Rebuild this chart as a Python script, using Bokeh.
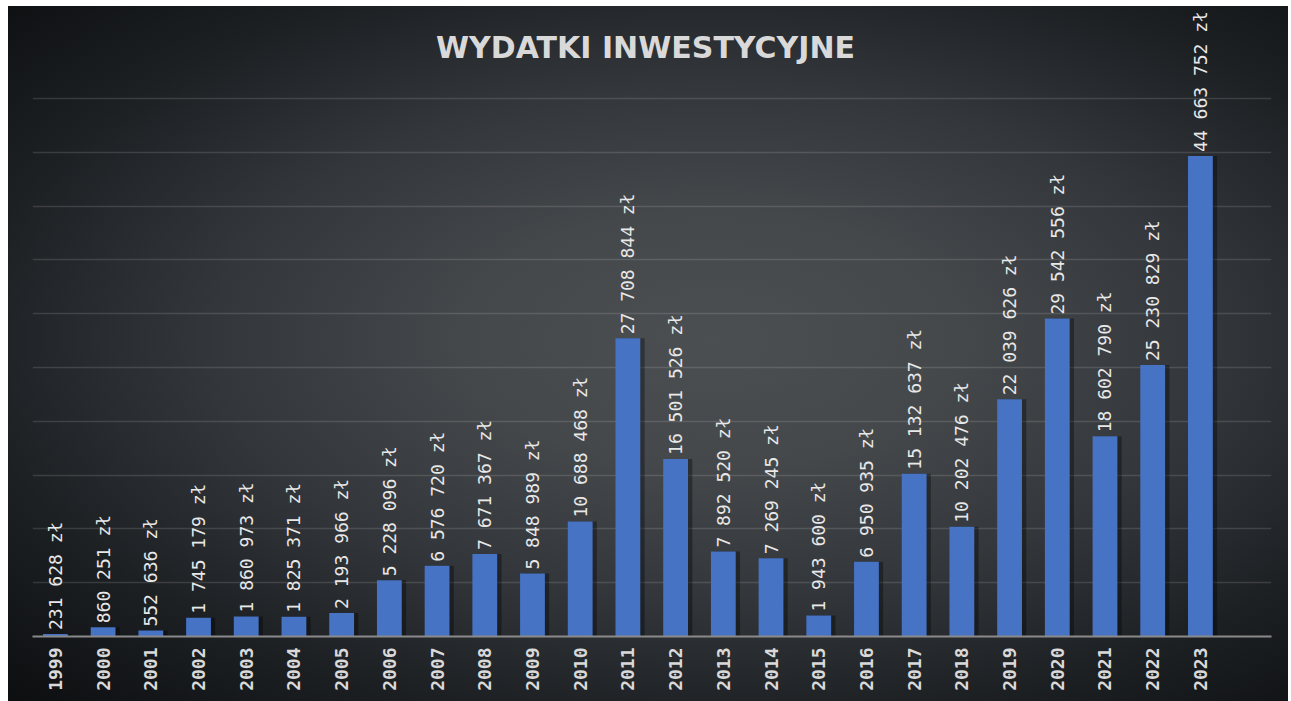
import math
from bokeh.plotting import figure
from bokeh.models import Range1d, FixedTicker, ColumnDataSource, Label
from bokeh.core.properties import value
from bokeh.embed import file_html
from bokeh.resources import INLINE

years = ["1999", "2000", "2001", "2002", "2003", "2004", "2005", "2006", "2007",
         "2008", "2009", "2010", "2011", "2012", "2013", "2014", "2015", "2016",
         "2017", "2018", "2019", "2020", "2021", "2022", "2023"]
amounts = [231628, 860251, 552636, 1745179, 1860973, 1825371, 2193966, 5228096,
           6576720, 7671367, 5848989, 10688468, 27708844, 16501526, 7892520,
           7269245, 1943600, 6950935, 15132637, 10202476, 22039626, 29542556,
           18602790, 25230829, 44663752]
title_text = "WYDATKI INWESTYCYJNE"
grid_ticks = [0, 5e6, 10e6, 15e6, 20e6, 25e6, 30e6, 35e6, 40e6, 45e6, 50e6]


def fmt(v):
    return "{:,}".format(v).replace(",", " ") + " zł"


idx = list(range(len(years)))
src = ColumnDataSource(dict(x=idx, y=amounts, lab=[fmt(v) for v in amounts],
                            xs=[i + 0.07 for i in idx]))

W, H = 1280, 695
bottom = 65
frame_h = H - bottom
ymax = frame_h / 10.76 * 1e6

p = figure(width=W, height=H, output_backend="svg", toolbar_location=None,
           x_range=Range1d(-0.48, len(years) - 1 + 1.49), y_range=Range1d(0, ymax),
           min_border_left=24, min_border_right=17, min_border_top=0,
           min_border_bottom=bottom)
p.styles = {"background": "radial-gradient(ellipse farthest-corner at 55% 48%, "
                          "#4c4f52 0%, #45484b 25%, #33363a 50%, #1d2023 75%, #0c0e10 100%)",
            "margin": "6px 0 0 8px"}
p.border_fill_color = None
p.background_fill_color = None
p.outline_line_color = None

# shadow
p.vbar(x="xs", top="y", width=0.56, bottom=0, source=src, fill_color="#000000",
       fill_alpha=0.35, line_color=None)
p.vbar(x="x", top="y", width=0.52, bottom=0, source=src, fill_color="#4673c4",
       line_color=None)

p.text(x="x", y="y", text="lab", source=src, angle=math.pi / 2, y_offset=-4,
       text_align="left", text_baseline="middle", text_color="#e8e8e8",
       text_font=value("DejaVu Sans Mono"), text_font_size="18px")

p.yaxis.visible = False
p.ygrid.ticker = FixedTicker(ticks=grid_ticks)
p.ygrid.grid_line_color = "#ffffff"
p.ygrid.grid_line_alpha = 0.13
p.ygrid.grid_line_width = 1.5
p.xgrid.visible = False

ax = p.xaxis[0]
ax.ticker = FixedTicker(ticks=idx)
ax.major_label_overrides = {i: y for i, y in enumerate(years)}
ax.major_label_orientation = math.pi / 2
ax.major_tick_line_color = None
ax.minor_tick_line_color = None
ax.axis_line_color = "#8a8a8a"
ax.axis_line_width = 2
ax.major_label_text_color = "#d9d9d9"
ax.major_label_text_font = "DejaVu Sans Mono"
ax.major_label_text_font_style = "bold"
ax.major_label_text_font_size = "18px"
ax.major_label_standoff = 5

xr = p.x_range
title_x = xr.start + (645 - 32) / (W - 24 - 17) * (xr.end - xr.start)
title_y = ymax - (47 - 6) / 10.76 * 1e6
p.add_layout(Label(x=title_x, y=title_y, text=title_text, text_align="center",
                   text_baseline="middle", text_color="#d9d9d9",
                   text_font="DejaVu Sans", text_font_style="bold",
                   text_font_size="30px"))

open("out.html", "w").write(file_html(p, INLINE))
